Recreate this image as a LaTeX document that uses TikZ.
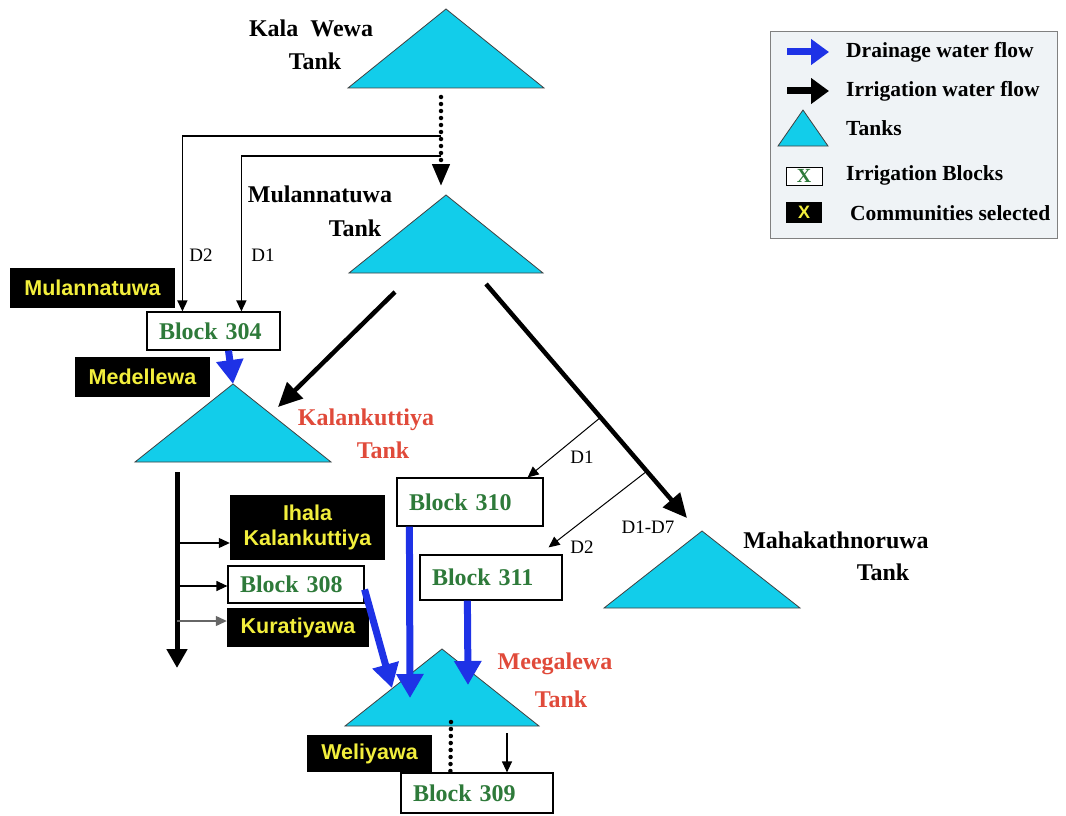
\documentclass[tikz,border=0pt]{standalone}
\usepackage{fontspec}
\setmainfont{Liberation Serif}
\newfontfamily\commfont{Liberation Sans}
\usetikzlibrary{arrows.meta,calc}
\definecolor{tankcyan}{HTML}{12CDEA}
\definecolor{drainblue}{HTML}{1E32E6}
\definecolor{blockgreen}{HTML}{2E7A3A}
\definecolor{tankred}{HTML}{E04A3A}
\definecolor{commyellow}{HTML}{F2EE3C}
\definecolor{legendbg}{HTML}{EFF3F6}

\begin{document}
\begin{tikzpicture}[x=1pt,y=-1pt,
  tank/.style={fill=tankcyan,draw=black!75,line width=0.8pt},
  blockbox/.style={draw,line width=1.2pt,fill=white,text=blockgreen,align=left,
    inner xsep=12pt,inner ysep=0pt,font=\fontsize{24}{26}\selectfont\bfseries},
  commbox/.style={fill=black,text=commyellow,inner sep=0pt,align=center,
    font=\commfont\fontsize{21.5}{25}\selectfont\bfseries},
  tanklbl/.style={inner sep=0pt,font=\fontsize{24}{26}\selectfont\bfseries},
  dlbl/.style={inner sep=0pt,font=\fontsize{19}{21}\selectfont},
  legtext/.style={anchor=west,inner sep=0pt,font=\fontsize{21.5}{24}\selectfont\bfseries},
  irrflow/.style={line width=4.5pt,-{Triangle[length=24pt,width=22pt]}},
  drainflow/.style={drainblue,line width=7pt,-{Triangle[length=24pt,width=26pt]}},
  thinflow/.style={line width=1.2pt,-{Triangle[length=11pt,width=10pt]}},
  dotflow/.style={line width=4.5pt,line cap=round,dash pattern=on 0pt off 7pt}]
  \useasboundingbox (0,0) rectangle (1066,816);

  % legend frame
  \draw[gray,line width=1pt,fill=legendbg] (770,32) rectangle (1057,238);

  % tanks
  \foreach \tn/\tx/\ty/\hw/\th in {kw/446/9/98/79, mt/446/195/97/78, kt/233/384/98/78,
      mg/442/649/97/77, mk/702/531/98/77, lg/803/110/25/36} {
    \coordinate (\tn-top) at (\tx,\ty);
    \coordinate (\tn-left) at (\tx-\hw,\ty+\th);
    \coordinate (\tn-right) at (\tx+\hw,\ty+\th);
    \draw[tank] (\tn-top) -- (\tn-left) -- (\tn-right) -- cycle;
  }

  % tank labels
  \node[tanklbl] (kwname) at (311,28) {Kala\ \ Wewa};
  \node[tanklbl] (kwtank) at (315,61) {Tank};
  \node[tanklbl] (mtname) at (320,194) {Mulannatuwa};
  \node[tanklbl] (mttank) at (355,228) {Tank};
  \node[tanklbl,text=tankred] (ktname) at (366,420) {Kalankuttiya};
  \node[tanklbl,text=tankred] (kttank) at (383,450) {Tank};
  \node[tanklbl,text=tankred] (mgname) at (555,664) {Meegalewa};
  \node[tanklbl,text=tankred] (mgtank) at (561,699) {Tank};
  \node[tanklbl] (mkname) at (836,540) {Mahakathnoruwa};
  \node[tanklbl] (mktank) at (883,572) {Tank};

  % irrigation blocks
  \node[blockbox,text width=109pt,minimum height=38pt] (b304) at (213.5,331) {Block 304};
  \node[blockbox,text width=122pt,minimum height=48pt] (b310) at (470,502) {Block 310};
  \node[blockbox,text width=118pt,minimum height=45pt] (b311) at (491,577.5) {Block 311};
  \node[blockbox,text width=112pt,minimum height=37pt] (b308) at (296,584.5) {Block 308};
  \node[blockbox,text width=128pt,minimum height=40pt] (b309) at (477,793) {Block 309};

  % communities
  \node[commbox,minimum width=165pt,minimum height=40pt] (mulan) at (92.5,288) {Mulannatuwa};
  \node[commbox,minimum width=135pt,minimum height=40pt] (medel) at (142.5,377) {Medellewa};
  \node[commbox,minimum width=155pt,minimum height=65pt] (ihala) at (307.5,527.5) {Ihala\\Kalankuttiya};
  \node[commbox,minimum width=142pt,minimum height=39pt] (kura) at (298,627.5) {Kuratiyawa};
  \node[commbox,minimum width=125pt,minimum height=37pt] (weli) at (369.5,753.5) {Weliyawa};

  % Kala Wewa -> Mulannatuwa and Block 304
  \coordinate (kw-out) at (441,97);
  \coordinate (mt-in) at (441,186);
  \coordinate (jd2) at (441,136);
  \coordinate (jd1) at (441,156);
  \draw[dotflow,-{Triangle[length=22pt,width=17pt]}] (kw-out) -- (mt-in);
  \draw[thinflow,line width=1.5pt] (jd2) -| ([xshift=36pt]b304.north west);
  \draw[thinflow,line width=1.5pt] (jd1) -| ([xshift=95pt]b304.north west);
  \node[dlbl] (d2a) at (201,255) {D2};
  \node[dlbl] (d1a) at (263,255) {D1};

  % Mulannatuwa outflows
  \coordinate (mt-outl) at (395,292);
  \coordinate (kt-in) at (278,407);
  \coordinate (mt-outr) at (486,284);
  \coordinate (mk-in) at (687,518);
  \draw[irrflow] (mt-outl) -- (kt-in);
  \draw[irrflow] (mt-outr) -- (mk-in);
  \coordinate (md1) at ($(mt-outr)!0.57!(mk-in)$);
  \coordinate (md2) at ($(mt-outr)!0.8!(mk-in)$);
  \draw[thinflow,line width=1pt] (md1) -- ([xshift=-16pt]b310.north east);
  \draw[thinflow,line width=1pt] (md2) -- ([xshift=-14pt,yshift=7pt]b311.north east);
  \node[dlbl] (d1b) at (582,457) {D1};
  \node[dlbl] (d2b) at (582,547) {D2};
  \node[dlbl] (d17) at (648,527) {D1-D7};

  % Block 304 -> Kalankuttiya
  \draw[drainflow] ([xshift=15pt]b304.south) -- (kt-top);

  % Kalankuttiya outflow
  \coordinate (kt-out) at (177,472);
  \coordinate (kt-end) at (177,668);
  \draw[irrflow,line width=5pt,-{Triangle[length=19pt,width=20pt]}] (kt-out) -- (kt-end);
  \coordinate (kb1) at (177,543);
  \coordinate (kb2) at (177,586);
  \coordinate (kb3) at (177,621);
  \draw[thinflow] (kb1) -- (kb1 -| ihala.west);
  \draw[thinflow] (kb2) -- (kb2 -| b308.west);
  \draw[thinflow,black!60] (kb3) -- (kb3 -| kura.west);

  % drainage into Meegalewa
  \coordinate (mg-in1) at (392,688);
  \coordinate (mg-in2) at (410,698);
  \coordinate (mg-in3) at (468,685);
  \draw[drainflow] ([yshift=-5pt]b308.east) -- (mg-in1);
  \draw[drainflow] ([xshift=13pt]b310.south west) -- (mg-in2);
  \draw[drainflow] ([xshift=48pt]b311.south west) -- (mg-in3);

  % Meegalewa -> Block 309
  \coordinate (mg-out1) at (451,722);
  \coordinate (mg-out2) at (507,733);
  \draw[dotflow] (mg-out1) -- ([xshift=50pt]b309.north west);
  \draw[thinflow] (mg-out2) -- (mg-out2 |- b309.north);

  % legend entries
  \coordinate (ld-a) at (787,52);
  \coordinate (ld-b) at (829,52);
  \coordinate (li-a) at (787,91);
  \coordinate (li-b) at (829,91);
  \draw[drainblue,line width=7pt,-{Triangle[length=18pt,width=25pt]}] (ld-a) -- (ld-b);
  \draw[line width=7pt,-{Triangle[length=18pt,width=25pt]}] (li-a) -- (li-b);
  \node[draw,line width=1pt,fill=white,text=blockgreen,minimum width=36pt,minimum height=18pt,
    inner sep=0pt,font=\fontsize{20}{20}\selectfont\bfseries] (legblock) at (804,176) {X};
  \node[fill=black,text=commyellow,minimum width=36pt,minimum height=21pt,inner sep=0pt,
    font=\commfont\fontsize{18}{18}\selectfont\bfseries] (legcomm) at (804,212.5) {X};
  \node[legtext] (legt1) at (846,52) {Drainage water flow};
  \node[legtext] (legt2) at (846,91) {Irrigation water flow};
  \node[legtext] (legt3) at (846,128) {Tanks};
  \node[legtext] (legt4) at (846,175) {Irrigation Blocks};
  \node[legtext] (legt5) at (850,213) {Communities selected};
\end{tikzpicture}
\end{document}
